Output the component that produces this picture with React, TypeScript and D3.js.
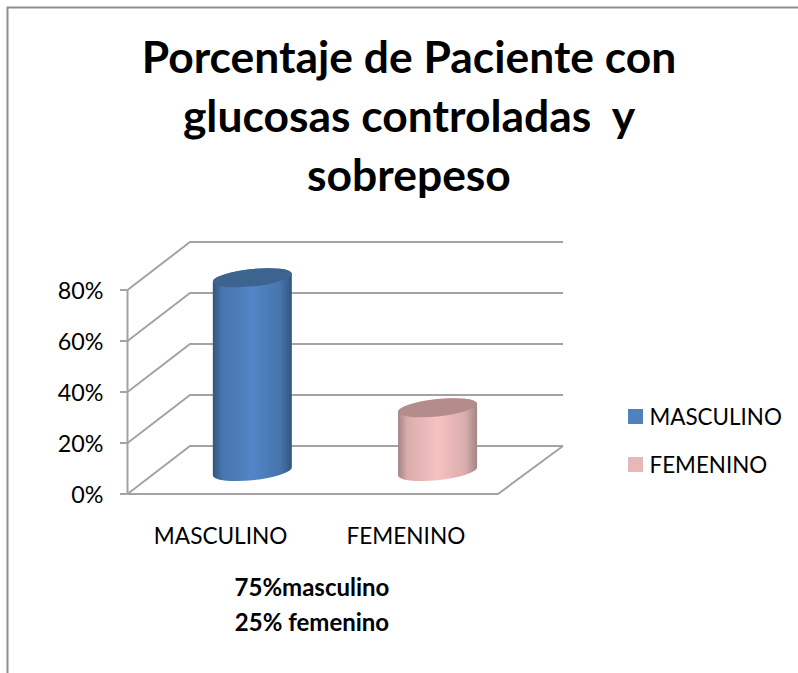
import React from "react";
import * as d3 from "d3";

const categories = ["MASCULINO", "FEMENINO"];
const values = [0.76, 0.25];
const ticks = [0, 0.2, 0.4, 0.6, 0.8];
const barColors = [
  { edge: "#33557f", mid: "#5286c6", top: "#3c648f", swatch: "#4f81bd" },
  { edge: "#a58585", mid: "#f6c2c2", top: "#b48c8c", swatch: "#e6b8b7" },
];
const titleLines = ["Porcentaje de Paciente con", "glucosas controladas  y", "sobrepeso"];
const noteLines = ["75%masculino", "25% femenino"];

const FONT = "Lato, Carlito, Calibri, sans-serif";
const GRID = "#a3a3a3";

export default function App() {
  const y = d3.scaleLinear().domain([0, 0.8]).range([494, 290]);
  const x = d3.scaleBand().domain(categories).range([127.5, 498]).paddingInner(0.32).paddingOuter(0.16);
  const fmt = d3.format(".0%");
  const depthX = 62.5;
  const depthY = -48;
  const barDepthY = -22.5;
  const barDepthX = 32.2;
  const rx = 39.5;
  const ry = 8.6;
  const tilt = 4;
  const rot = -6;

  return (
    <svg width={798} height={673} style={{ position: "absolute", left: 0, top: 0 }}>
      <defs>
        {barColors.map((c, i) => (
          <linearGradient key={i} id={`cyl${i}`} x1="0" x2="1" y1="0" y2="0">
            <stop offset="0" stopColor={c.edge} />
            <stop offset="0.12" stopColor={d3.interpolateRgb(c.edge, c.mid)(0.65)} />
            <stop offset="0.5" stopColor={c.mid} />
            <stop offset="0.85" stopColor={d3.interpolateRgb(c.edge, c.mid)(0.65)} />
            <stop offset="1" stopColor={c.edge} />
          </linearGradient>
        ))}
      </defs>
      <rect width={798} height={673} fill="#ffffff" />
      <path d="M7.5,673V7.5H798" fill="none" stroke="#8f8f8f" strokeWidth={2} />

      <text textAnchor="middle" fontFamily={FONT} fontWeight={700} fontSize={44.4} fill="#000">
        {titleLines.map((t, i) => (
          <tspan key={i} x={409} y={73 + i * 59} style={{ whiteSpace: "pre" }}>{t}</tspan>
        ))}
      </text>

      {/* walls and floor */}
      <g fill="none" stroke={GRID} strokeWidth={2}>
        {ticks.map((t) => (
          <path key={t} d={`M${127.5},${y(t)}L${127.5 + depthX},${y(t) + depthY}H563`} />
        ))}
        <path d={`M${127.5},${y(0)}H498L563,${y(0) + depthY}`} />
        <path d={`M127.5,${y(0.8)}V${y(0)}`} />
        {ticks.map((t) => (
          <path key={t} d={`M120,${y(t)}H127.5`} />
        ))}
      </g>

      {ticks.map((t) => (
        <text key={t} x={103.5} y={y(t) + 9} textAnchor="end" fontFamily={FONT} fontSize={23.3} fill="#000">
          {fmt(t)}
        </text>
      ))}

      {/* cylinders */}
      {categories.map((c, i) => {
        const cx = x(c)! + x.bandwidth() / 2 + barDepthX;
        const baseY = y(0) + barDepthY;
        const topY = y(values[i]) + barDepthY;
        const lx = cx - rx;
        const hx = cx + rx;
        const arc = (sweep: number, tx: number, ty: number) =>
          `A${rx},${ry} ${rot} 0 ${sweep} ${tx},${ty}`;
        const body =
          `M${lx},${topY + tilt}L${lx},${baseY + tilt}` +
          arc(0, hx, baseY - tilt) +
          `L${hx},${topY - tilt}` +
          arc(0, lx, topY + tilt) + "Z";
        const cap =
          `M${lx},${topY + tilt}` + arc(1, hx, topY - tilt) + arc(1, lx, topY + tilt) + "Z";
        return (
          <g key={c}>
            <path d={body} fill={`url(#cyl${i})`} />
            <path d={cap} fill={barColors[i].top} />
          </g>
        );
      })}

      {/* category labels */}
      {categories.map((c) => (
        <text key={c} x={x(c)! + x.bandwidth() / 2 + 0.5} y={544} textAnchor="middle" fontFamily={FONT} fontSize={22.6} fill="#000">
          {c}
        </text>
      ))}

      {/* legend */}
      {categories.map((c, i) => (
        <g key={c}>
          <rect x={628} y={409 + i * 48} width={15} height={15} fill={barColors[i].swatch} />
          <text x={649.5} y={424.5 + i * 48} fontFamily={FONT} fontSize={22.4} fill="#000">
            {c}
          </text>
        </g>
      ))}

      <text textAnchor="middle" fontFamily={FONT} fontWeight={700} fontSize={24} fill="#000">
        {noteLines.map((t, i) => (
          <tspan key={i} x={312} y={596 + i * 35}>{t}</tspan>
        ))}
      </text>
    </svg>
  );
}
